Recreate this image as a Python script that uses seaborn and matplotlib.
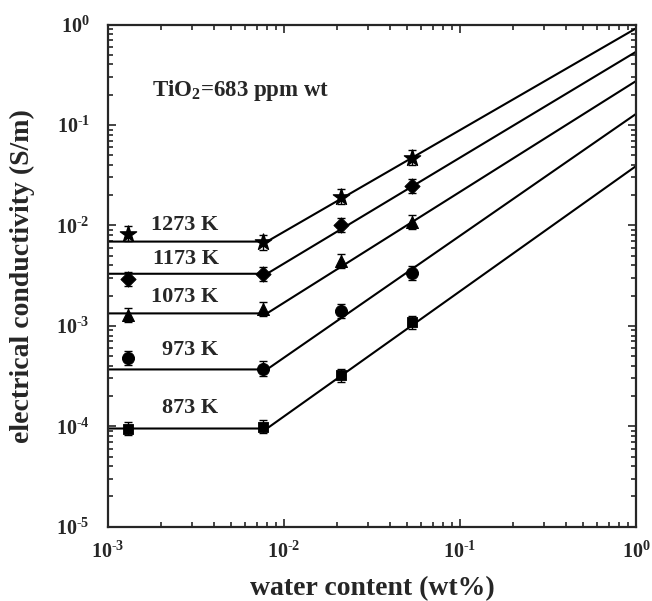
import numpy as np
import pandas as pd
import matplotlib
matplotlib.use("Agg")
import matplotlib.pyplot as plt
from matplotlib.ticker import FuncFormatter
import seaborn as sns

# measured points (water content in wt%, conductivity in S/m)
water = [0.0013, 0.0076, 0.021, 0.053]
temps = ['1273 K', '1173 K', '1073 K', '973 K', '873 K']
s1273 = [8.3e-3, 6.8e-3, 1.93e-2, 4.7e-2]
s1173 = [2.95e-3, 3.3e-3, 1.0e-2, 2.45e-2]
s1073 = [1.28e-3, 1.47e-3, 4.4e-3, 1.08e-2]
s973 = [4.8e-4, 3.76e-4, 1.41e-3, 3.37e-3]
s873 = [9.5e-5, 9.9e-5, 3.23e-4, 1.08e-3]
err_dex = [0.075, 0.07, 0.07, 0.07, 0.065]

# fitted lines: plateau level, kink position, value at 1 wt%
plateau = [6.9e-3, 3.3e-3, 1.33e-3, 3.68e-4, 9.5e-5]
kink = 0.008
line_end = [0.916, 0.536, 0.274, 0.129, 0.039]

# label positions
label_y = [1.0e-2, 4.6e-3, 1.94e-3, 5.7e-4, 1.53e-4]

sigmas = [s1273, s1173, s1073, s973, s873]
markers = ['*', 'D', '^', 'o', 's']
msizes = [150, 60, 75, 75, 60]

rows = []
for t, s in zip(temps, sigmas):
    for w, v in zip(water, s):
        rows.append({'water': w, 'sigma': v, 'T': t})
df = pd.DataFrame(rows)

lines = []
for t, p, e in zip(temps, plateau, line_end):
    for w, v in zip([1e-3, kink, 1.0], [p, p, e]):
        lines.append({'water': w, 'sigma': v, 'T': t})
df_lines = pd.DataFrame(lines)

sns.set_style("ticks")
plt.rcParams['font.family'] = ['Liberation Serif', 'DejaVu Serif']
plt.rcParams['font.weight'] = 'bold'
plt.rcParams['mathtext.fontset'] = 'custom'
plt.rcParams['mathtext.rm'] = 'Liberation Serif:bold'
plt.rcParams['mathtext.bf'] = 'Liberation Serif:bold'
plt.rcParams['mathtext.it'] = 'Liberation Serif:bold'
plt.rcParams['axes.unicode_minus'] = False

fig = plt.figure(figsize=(6.52, 6.01), dpi=100)
ax = fig.add_axes([0.1656, 0.1236, 0.81, 0.8356])

sns.lineplot(data=df_lines, x='water', y='sigma', units='T', estimator=None,
             color='black', lw=1.5, ax=ax, legend=False)

for t, s, m, ms, e in zip(temps, sigmas, markers, msizes, err_dex):
    s = np.array(s)
    lo = s - s / 10**e
    hi = s * 10**e - s
    ax.errorbar(water, s, yerr=[lo, hi], fmt='none', ecolor='black',
                elinewidth=1.0, capsize=3, capthick=1.0, zorder=3)
    sub = df[df['T'] == t]
    sns.scatterplot(data=sub, x='water', y='sigma', marker=m, s=ms,
                    color='black', edgecolor='black', ax=ax, zorder=4,
                    legend=False)

ax.set_xscale('log')
ax.set_yscale('log')
ax.set_xlim(1e-3, 1)
ax.set_ylim(1e-5, 1)


def pow_label(v, pos):
    k = int(round(np.log10(v)))
    if k < 0:
        return r'$\mathdefault{10^{\text{-}%d}}$' % (-k)
    return r'$\mathdefault{10^{%d}}$' % k


ax.xaxis.set_major_formatter(FuncFormatter(pow_label))
ax.yaxis.set_major_formatter(FuncFormatter(pow_label))

for t, y in zip(temps, label_y):
    ax.text(4.25e-3, y, t, ha='right', va='center', fontsize=16,
            fontweight='bold')

ax.text(0.084, 0.869, 'TiO$_{2}$=683 ppm wt', transform=ax.transAxes,
        ha='left', va='center', fontsize=16.5, fontweight='bold')

ax.set_xlabel('water content (wt%)', fontsize=20, fontweight='bold')
ax.set_ylabel('electrical conductivity (S/m)', fontsize=20,
              fontweight='bold')
ax.xaxis.set_label_coords(0.5, -0.098)
ax.yaxis.set_label_coords(-0.138, 0.5)

ax.tick_params(which='both', direction='in', top=True, right=True,
               labelsize=14.5, width=1.2)
ax.tick_params(which='major', length=6)
ax.tick_params(which='minor', length=3.5)
ax.tick_params(axis='x', which='major', pad=11)
ax.tick_params(axis='y', which='major', pad=13)
for sp in ax.spines.values():
    sp.set_linewidth(1.6)
ax.grid(False)

fig.savefig('out.png', dpi=100)
